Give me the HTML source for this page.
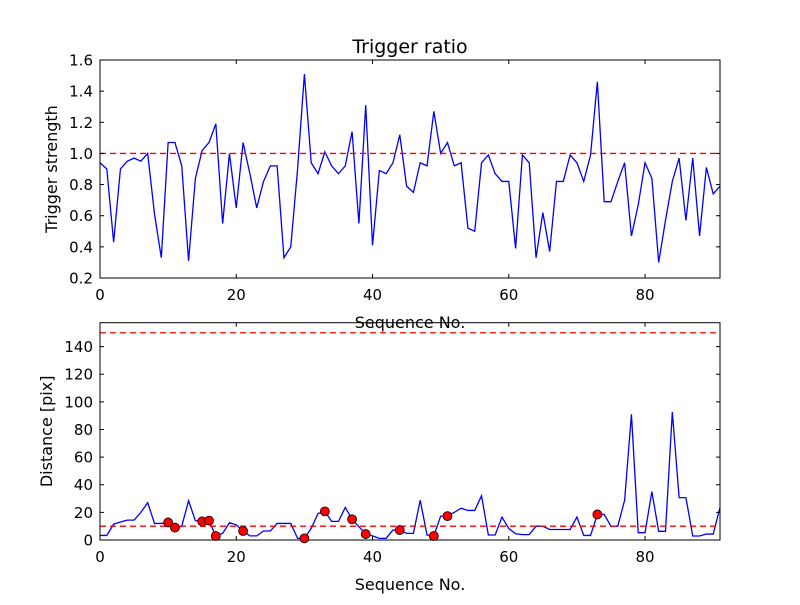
<!DOCTYPE html>
<html><head><meta charset="utf-8"><style>
body{margin:0;background:#fff;}
svg text{font-family:"DejaVu Sans","Liberation Sans",sans-serif;fill:#000;}
</style></head><body>
<svg id="chart" width="800" height="600" viewBox="0 0 800 600" xmlns="http://www.w3.org/2000/svg">
<rect width="800" height="600" fill="#fff"/>
<g id="topg"></g><g id="botg"></g>
</svg>
<script>
const ratio=[0.94,0.90,0.43,0.90,0.95,0.97,0.95,1.0,0.61,0.33,1.07,1.07,0.92,0.31,0.84,1.02,1.07,1.19,0.55,1.0,0.65,1.07,0.87,0.65,0.82,0.92,0.92,0.33,0.40,0.90,1.51,0.94,0.87,1.01,0.92,0.87,0.92,1.14,0.55,1.31,0.41,0.89,0.87,0.94,1.12,0.79,0.75,0.94,0.92,1.27,1.0,1.07,0.92,0.94,0.52,0.50,0.94,0.99,0.87,0.82,0.82,0.39,0.99,0.94,0.33,0.62,0.37,0.82,0.82,0.99,0.94,0.82,0.99,1.46,0.69,0.69,0.82,0.94,0.47,0.67,0.94,0.84,0.30,0.57,0.82,0.97,0.57,0.97,0.47,0.91,0.74,0.79];
const dist=[3.3,3.3,11.5,13,14.4,14.4,20,27,12,12,12.7,9,10,28.4,14,13.5,14,2.9,4.8,12.5,11,6.5,3,3,6.5,6.5,12,12,12,1.2,1.2,8.4,19.2,20.7,13.5,13.5,23.6,15,9.6,4.3,3,1.2,1.2,7.2,7.2,4.8,4.8,28.8,3.6,2.9,17.3,17.3,20,23,21.4,21.4,32,3.6,3.6,16.6,8.3,4.5,3.9,3.9,10,10,7.6,7.6,7.6,7.6,16.6,3.3,3.3,18.5,18.5,10,10,28.8,91,5.3,5.3,35,6.3,6.3,92.6,30.7,30.7,2.9,2.9,4.3,4.3,23.5];
const markerIdx=[10,11,15,16,17,21,30,33,37,39,44,49,51,73];
const xTicks=[0,20,40,60,80];
const topYTicks=[0.2,0.4,0.6,0.8,1.0,1.2,1.4,1.6];
const botYTicks=[0,20,40,60,80,100,120,140];
const ratioThresh=[1.0];
const distThresh=[10,150];
const NS='http://www.w3.org/2000/svg';
function mk(p,tag,a){const e=document.createElementNS(NS,tag);for(const k in a)e.setAttribute(k,a[k]);p.appendChild(e);return e;}
function panel(g,y0,y1,ymin,ymax,data,yt,fmt,thr,ylabel,title,name){
  const x0=100,x1=720,xmax=91;
  const X=v=>x0+v/xmax*(x1-x0), Y=v=>y1-(v-ymin)/(ymax-ymin)*(y1-y0);
  
  
  const cp='clip'+name;
  const d=mk(g,'defs',{});const c=mk(d,'clipPath',{id:cp});mk(c,'rect',{x:x0,y:y0,width:x1-x0,height:y1-y0});
  const pts=data.map((v,i)=>X(i).toFixed(2)+','+Y(v).toFixed(2)).join(' ');
  const ln=mk(g,'polyline',{points:pts,fill:'none',stroke:'#0000ff','stroke-width':1.3,'clip-path':`url(#${cp})`});
  
  
  thr.forEach(t=>{const l=mk(g,'line',{x1:x0,x2:x1,y1:Y(t),y2:Y(t),stroke:'#ff0000','stroke-width':1.3,'stroke-dasharray':'6,4'});
    
    });
  const ax=mk(g,'rect',{x:x0,y:y0,width:x1-x0,height:y1-y0,fill:'none',stroke:'#000','stroke-width':1});
  
  
  xTicks.forEach(t=>{const x=X(t);mk(g,'line',{x1:x,x2:x,y1:y1,y2:y1-4,stroke:'#000'});mk(g,'line',{x1:x,x2:x,y1:y0,y2:y0+4,stroke:'#000'});
    const tx=mk(g,'text',{x:x,y:y1+22,'text-anchor':'middle','font-size':15});tx.textContent=t;
    
    });
  yt.forEach(t=>{const y=Y(t);mk(g,'line',{x1:x0,x2:x0+4,y1:y,y2:y,stroke:'#000'});mk(g,'line',{x1:x1,x2:x1-4,y1:y,y2:y,stroke:'#000'});
    const tx=mk(g,'text',{x:x0-7,y:y+5.5,'text-anchor':'end','font-size':15});tx.textContent=fmt(t);
    
    });
  const xl=mk(g,'text',{x:410,y:y1+50,'text-anchor':'middle','font-size':16});xl.textContent='Sequence No.';
  
  
  const cy=(y0+y1)/2;
  const yl=mk(g,'text',{x:0,y:0,'text-anchor':'middle','font-size':16,transform:`translate(${name==='top-panel'?57:52},${cy}) rotate(-90)`});yl.textContent=ylabel;
  
  
  if(title){const tt=mk(g,'text',{x:410,y:53,'text-anchor':'middle','font-size':19});tt.textContent=title;
    
    }
  return {X,Y};
}
const topPanel=panel(document.getElementById('topg'),60,278,0.2,1.6,ratio,topYTicks,v=>v.toFixed(1),ratioThresh,'Trigger strength','Trigger ratio','top-panel');
const bg=document.getElementById('botg');
const botPanel=panel(bg,322.7,540,0,157.3,dist,botYTicks,v=>String(v),distThresh,'Distance [pix]',null,'bottom-panel');
markerIdx.forEach(i=>{const m=mk(bg,'circle',{cx:botPanel.X(i),cy:botPanel.Y(dist[i]),r:4.5,fill:'#ff0000',stroke:'#000','stroke-width':0.8});
  
  });
</script>
</body></html>
